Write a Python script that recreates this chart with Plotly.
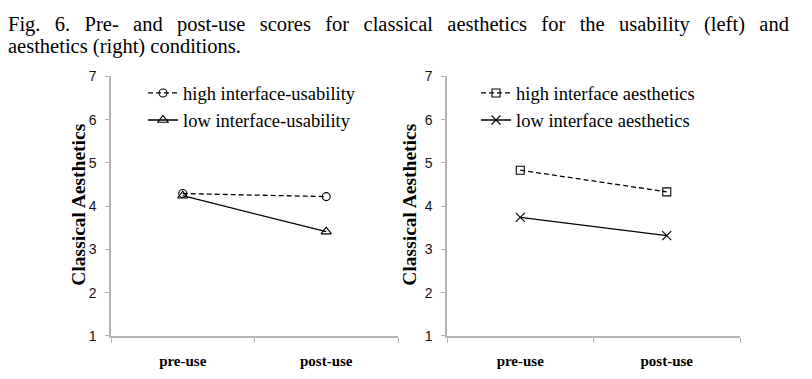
import plotly.graph_objects as go

categories = ["pre-use", "post-use"]
usability_high = [4.29, 4.22]
usability_low = [4.24, 3.41]
aesthetics_high = [4.83, 4.33]
aesthetics_low = [3.74, 3.32]
y_ticks = [1, 2, 3, 4, 5, 6, 7]

W, H = 812, 379
OX, OY = 8, 8  # page offset of the plot div
AX = "#b4b4b4"
SERIF = "Liberation Serif, Times New Roman, serif"


def px(x):
    return (x - OX) / W


def py(y):
    return 1 - (y - OY) / H


fig = go.Figure()


def line_trace(y, name, dash, symbol, size, xa, ya, legend):
    return go.Scatter(
        x=categories, y=y, name=name, mode="lines+markers",
        line=dict(color="black", width=1.3, dash=dash),
        marker=dict(symbol=symbol, size=size, color="black",
                    line=dict(color="black", width=1.1)),
        xaxis=xa, yaxis=ya, legend=legend, legendgroup=name,
    )


fig.add_trace(line_trace(usability_high, "high interface-usability", "5px,3px", "circle-open", 8, "x", "y", "legend"))
fig.add_trace(line_trace(usability_low, "low interface-usability", "solid", "triangle-up-open", 9, "x", "y", "legend"))
fig.add_trace(line_trace(aesthetics_high, "high interface aesthetics", "5px,3px", "square-open", 8, "x2", "y2", "legend2"))
fig.add_trace(line_trace(aesthetics_low, "low interface aesthetics", "solid", "x-thin-open", 9, "x2", "y2", "legend2"))

ydom = [py(342), py(71)]


def xaxis(dom, anchor):
    return dict(domain=dom, anchor=anchor, type="category", categoryorder="array",
                categoryarray=categories, range=[-0.5, 1.5], showline=True,
                linecolor=AX, linewidth=1.5, ticks="outside", tickson="boundaries",
                ticklen=5, tickcolor=AX, tickwidth=1.2, showgrid=False, zeroline=False,
                tickfont=dict(family=SERIF, size=15, color="black", weight="bold"),
                ticklabelstandoff=10)


def yaxis(anchor):
    return dict(domain=ydom, anchor=anchor, range=[1, 7], tickvals=y_ticks,
                showline=True, linecolor=AX, linewidth=1.5, ticks="outside",
                ticklen=4, tickcolor=AX, tickwidth=1.2, showgrid=False, zeroline=False,
                tickfont=dict(family="Liberation Sans, Arial, sans-serif", size=14, color="#111"),
                ticklabelstandoff=6)


legend_common = dict(xanchor="left", yanchor="top", bgcolor="rgba(0,0,0,0)",
                     font=dict(family=SERIF, size=18.5, color="black"),
                     tracegroupgap=0, itemwidth=30, traceorder="grouped")

fig.update_layout(
    width=W, height=H, margin=dict(l=0, r=0, t=0, b=0),
    paper_bgcolor="white", plot_bgcolor="white",
    xaxis=xaxis([px(111), px(398)], "y"),
    yaxis=yaxis("x"),
    xaxis2=xaxis([px(447), px(740)], "y2"),
    yaxis2=yaxis("x2"),
    legend=dict(x=px(143), y=py(69), **legend_common),
    legend2=dict(x=px(476), y=py(69), **legend_common),
    showlegend=True,
)

for xc in [79, 410]:
    fig.add_annotation(text="Classical Aesthetics", xref="paper", yref="paper",
                       x=px(xc), y=py(205), textangle=-90, showarrow=False,
                       xanchor="center", yanchor="middle",
                       font=dict(family=SERIF, size=19.5, color="black", weight="bold"))

line1 = "Fig. 6. Pre- and post-use scores for classical aesthetics for the usability (left) and"
line1 = line1.replace(" ", " \u00a0\u2009")
fig.add_annotation(text=line1,
                   xref="paper", yref="paper", x=px(7), y=py(17), showarrow=False,
                   xanchor="left", yanchor="middle", borderpad=0,
                   font=dict(family=SERIF, size=20.5, color="black"))
fig.add_annotation(text="aesthetics (right) conditions.",
                   xref="paper", yref="paper", x=px(7), y=py(40), showarrow=False,
                   xanchor="left", yanchor="middle", borderpad=0,
                   font=dict(family=SERIF, size=20.5, color="black"))

fig.write_html("out.html")
